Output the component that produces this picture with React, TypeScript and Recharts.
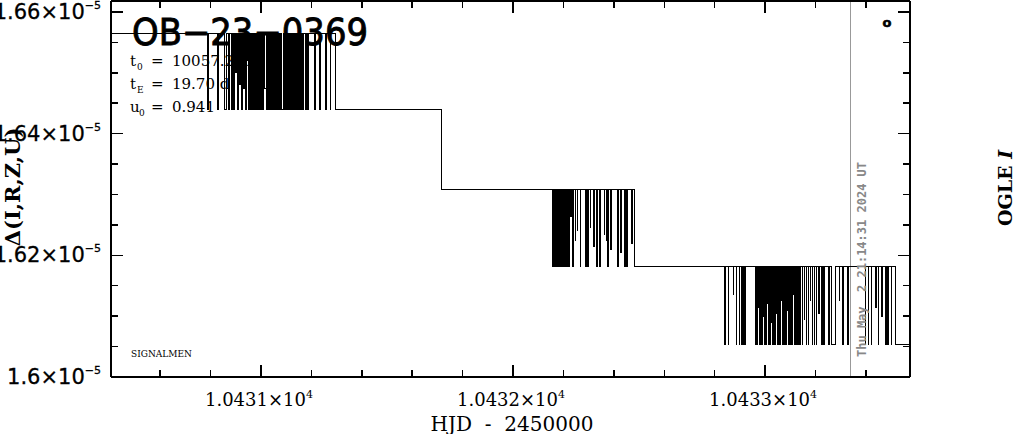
import React from 'react';
import { LineChart, Line, XAxis, YAxis, ReferenceLine } from 'recharts';

// levels of the step signal, in units of 1e-5
const A = 1.6565;
const B = 1.6439;
const C = 1.6309;
const D = 1.6181;
const E = 1.6053;

const xMajor = [10431, 10432, 10433];
const xMinor = [10430.6, 10430.8, 10431.2, 10431.4, 10431.6, 10431.8, 10432.2, 10432.4, 10432.6, 10432.8, 10433.2, 10433.4];
const yMajor = [1.6, 1.62, 1.64, 1.66];
const yMinor = [1.605, 1.61, 1.615, 1.625, 1.63, 1.635, 1.645, 1.65, 1.655];

const markerHjd = 10433.34;

const lead: [number, number][] = [[10430.4, A]];

const burst1: [number, number][] = [
  [10430.786, B], [10430.790, A], [10430.829, B], [10430.832, A], [10430.857, B], [10430.864, A],
  [10430.871, B], [10430.874, A], [10430.882, B], [10430.886, A], [10430.891, B], [10430.895, A],
  [10430.899, 1.650], [10430.902, A], [10430.906, B], [10430.910, A], [10430.915, 1.648], [10430.918, A],
  [10430.922, B], [10430.926, A], [10430.930, 1.6475], [10430.933, A], [10430.937, B], [10430.941, A],
  [10430.945, 1.652], [10430.948, A], [10430.951, B], [10430.955, A], [10430.958, B], [10430.961, A],
  [10430.963, 1.6495], [10430.966, A], [10430.968, B], [10430.971, A], [10430.973, B], [10430.976, A],
  [10430.978, B], [10430.981, A], [10430.983, 1.6505], [10430.986, A], [10430.988, B], [10430.991, A],
  [10430.993, B], [10430.996, A], [10430.998, B], [10431.001, A], [10431.003, B], [10431.006, A],
  [10431.008, B], [10431.011, A], [10431.013, 1.6475], [10431.020, A], [10431.022, B], [10431.025, A],
  [10431.027, B], [10431.030, A], [10431.032, B], [10431.035, A], [10431.037, B], [10431.039, A],
  [10431.041, B], [10431.044, A], [10431.046, B], [10431.049, A], [10431.051, B], [10431.053, A],
  [10431.058, B], [10431.061, A], [10431.063, B], [10431.066, A], [10431.068, B], [10431.070, A],
  [10431.073, B], [10431.075, A], [10431.078, B], [10431.080, A], [10431.083, B], [10431.089, A],
  [10431.091, B], [10431.094, A], [10431.096, B], [10431.099, A], [10431.101, B], [10431.104, A],
  [10431.106, B], [10431.109, A], [10431.111, B], [10431.114, A], [10431.116, B], [10431.119, A],
  [10431.121, B], [10431.124, A], [10431.126, B], [10431.129, A], [10431.131, B], [10431.134, A],
  [10431.137, B], [10431.140, A], [10431.143, B], [10431.146, A], [10431.149, B], [10431.152, A],
  [10431.155, B], [10431.160, A], [10431.164, B], [10431.170, A], [10431.175, B], [10431.179, A],
  [10431.186, B], [10431.190, A], [10431.213, B], [10431.216, A], [10431.233, B], [10431.236, A],
  [10431.256, B], [10431.259, A], [10431.274, B], [10431.277, A], [10431.294, B],
];

const drop: [number, number][] = [[10431.718, C]];

const burst2: [number, number][] = [
  [10432.155, D], [10432.158, C], [10432.160, D], [10432.163, C], [10432.167, D], [10432.169, C],
  [10432.171, D], [10432.173, C], [10432.175, D], [10432.177, C], [10432.179, D], [10432.181, C],
  [10432.183, D], [10432.185, C], [10432.187, D], [10432.189, C], [10432.191, D], [10432.193, C],
  [10432.195, D], [10432.197, C], [10432.199, D], [10432.201, C], [10432.203, D], [10432.205, C],
  [10432.207, D], [10432.209, C], [10432.211, D], [10432.213, C], [10432.215, D], [10432.217, C],
  [10432.219, D], [10432.221, C], [10432.223, D], [10432.225, C], [10432.228, 1.6263], [10432.231, C],
  [10432.236, D], [10432.239, C], [10432.246, 1.6225], [10432.249, C], [10432.254, 1.624], [10432.256, C],
  [10432.266, D], [10432.269, C], [10432.286, D], [10432.288, C], [10432.291, D], [10432.294, C],
  [10432.298, D], [10432.300, C], [10432.306, 1.6245], [10432.309, C], [10432.320, 1.6215], [10432.322, C],
  [10432.331, D], [10432.334, C], [10432.345, D], [10432.348, C], [10432.361, 1.6235], [10432.364, C],
  [10432.370, 1.6225], [10432.373, C], [10432.376, D], [10432.379, C], [10432.387, 1.621], [10432.390, C],
  [10432.416, D], [10432.418, C], [10432.428, 1.6205], [10432.431, C], [10432.444, D], [10432.447, C],
  [10432.452, D], [10432.455, C], [10432.470, 1.622], [10432.473, C], [10432.480, D],
];

const burst3: [number, number][] = [
  [10432.841, E], [10432.844, D], [10432.853, E], [10432.856, D], [10432.873, 1.6135], [10432.876, D],
  [10432.885, E], [10432.888, D], [10432.897, E], [10432.899, D], [10432.907, E], [10432.910, D],
  [10432.914, E], [10432.916, D], [10432.918, E], [10432.921, D], [10432.964, E], [10432.966, D],
  [10432.968, E], [10432.970, D], [10432.972, 1.6115], [10432.974, D], [10432.976, E], [10432.978, D],
  [10432.980, E], [10432.982, D], [10432.984, E], [10432.986, D], [10432.988, E], [10432.990, D],
  [10432.992, 1.610], [10432.994, D], [10432.996, E], [10432.998, D], [10433.000, E], [10433.002, D],
  [10433.004, E], [10433.006, D], [10433.008, 1.612], [10433.010, D], [10433.012, E], [10433.014, D],
  [10433.016, E], [10433.018, D], [10433.020, E], [10433.022, D], [10433.024, 1.609], [10433.026, D],
  [10433.028, E], [10433.030, D], [10433.032, E], [10433.034, D], [10433.036, E], [10433.038, D],
  [10433.040, E], [10433.042, D], [10433.044, 1.6105], [10433.046, D], [10433.048, E], [10433.050, D],
  [10433.052, E], [10433.054, D], [10433.056, E], [10433.058, D], [10433.060, E], [10433.062, D],
  [10433.064, 1.6125], [10433.066, D], [10433.068, E], [10433.070, D], [10433.072, E], [10433.074, D],
  [10433.076, E], [10433.078, D], [10433.080, E], [10433.082, D], [10433.084, E], [10433.086, D],
  [10433.088, 1.611], [10433.090, D], [10433.092, E], [10433.094, D], [10433.096, E], [10433.098, D],
  [10433.100, E], [10433.102, D], [10433.104, E], [10433.106, D], [10433.108, E], [10433.110, D],
  [10433.112, 1.6135], [10433.114, D], [10433.116, E], [10433.118, D], [10433.120, E], [10433.122, D],
  [10433.124, E], [10433.126, D], [10433.128, E], [10433.130, D], [10433.132, E], [10433.134, D],
  [10433.136, E], [10433.139, D], [10433.147, E], [10433.150, D], [10433.155, 1.6095], [10433.158, D],
  [10433.163, E], [10433.166, D], [10433.171, E], [10433.174, D], [10433.179, 1.6125], [10433.182, D],
  [10433.187, E], [10433.190, D], [10433.195, E], [10433.198, D], [10433.203, E], [10433.206, D],
  [10433.213, 1.6105], [10433.216, D], [10433.223, E], [10433.226, D], [10433.232, E], [10433.236, D],
  [10433.250, E], [10433.254, D], [10433.262, E], [10433.281, D], [10433.294, 1.6125], [10433.297, D],
  [10433.306, E], [10433.310, D], [10433.326, E], [10433.330, D], [10433.397, E], [10433.400, D],
  [10433.409, E], [10433.412, D], [10433.421, E], [10433.424, D], [10433.439, 1.6115], [10433.441, D],
  [10433.449, E], [10433.452, D], [10433.461, 1.610], [10433.464, D], [10433.477, E], [10433.479, D],
  [10433.481, E], [10433.484, D], [10433.487, E], [10433.489, D], [10433.500, E], [10433.503, D],
  [10433.516, E],
];

const tail: [number, number][] = [[10433.58, E]];

const data = [...lead, ...burst1, ...drop, ...burst2, ...burst3, ...tail].map(([t, v]) => ({ t, v }));

const xTicks = [...xMajor, ...xMinor].sort((a, b) => a - b);
const yTicks = [...yMajor, ...yMinor].sort((a, b) => a - b);

const serif = '"DejaVu Serif", serif';
const sans = '"DejaVu Sans", sans-serif';

const BottomTick = (props: any) => {
  const { x, y, payload } = props;
  const major = xMajor.includes(payload.value);
  return (
    <g>
      <line x1={x} x2={x} y1={y} y2={y - (major ? 12 : 7)} stroke="#000" strokeWidth={1.5} />
      {major && (
        <text x={x - 2} y={y + 29} textAnchor="middle" fontFamily={serif} fontSize={18} fill="#000">
          {(payload.value / 1e4).toFixed(4) + '×10'}
          <tspan fontSize={11} dy={-8}>4</tspan>
        </text>
      )}
    </g>
  );
};

const TopTick = (props: any) => {
  const { x, y, payload } = props;
  const major = xMajor.includes(payload.value);
  return <line x1={x} x2={x} y1={y} y2={y + (major ? 12 : 7)} stroke="#000" strokeWidth={1.5} />;
};

const LeftTick = (props: any) => {
  const { x, y, payload } = props;
  const major = yMajor.includes(payload.value);
  return (
    <g>
      <line x1={x} x2={x + (major ? 12 : 7)} y1={y} y2={y} stroke="#000" strokeWidth={1.5} />
      {major && (
        <text x={x - 10} y={y + 7} textAnchor="end" fontFamily={sans} fontSize={21} fill="#000" stroke="#000" strokeWidth={0.3}>
          {String(payload.value) + '×10'}
          <tspan fontSize={11} dy={-10}>−5</tspan>
        </text>
      )}
    </g>
  );
};

const RightTick = (props: any) => {
  const { x, y, payload } = props;
  const major = yMajor.includes(payload.value);
  return <line x1={x} x2={x - (major ? 12 : 7)} y1={y} y2={y} stroke="#000" strokeWidth={1.5} />;
};

export default function App() {
  return (
    <div style={{ position: 'absolute', left: 0, top: 0, width: 1014, height: 434, background: '#fff', shapeRendering: 'crispEdges' }}>
      <LineChart width={1014} height={434} data={data} margin={{ top: 0, right: 0, bottom: 0, left: 0 }}>
        <XAxis
          xAxisId="b"
          dataKey="t"
          type="number"
          domain={[10430.405, 10433.575]}
          allowDataOverflow
          ticks={xTicks}
          interval={0}
          tickSize={0}
          tickMargin={0}
          tickLine={false}
          height={57}
          axisLine={{ stroke: '#000', strokeWidth: 2 }}
          tick={<BottomTick />}
        />
        <XAxis
          xAxisId="top"
          orientation="top"
          dataKey="t"
          type="number"
          domain={[10430.405, 10433.575]}
          allowDataOverflow
          ticks={xTicks}
          interval={0}
          tickSize={0}
          tickMargin={0}
          tickLine={false}
          height={1}
          axisLine={{ stroke: '#000', strokeWidth: 2 }}
          tick={<TopTick />}
        />
        <YAxis
          yAxisId="l"
          type="number"
          domain={[1.6, 1.6618]}
          allowDataOverflow
          ticks={yTicks}
          interval={0}
          tickSize={0}
          tickMargin={0}
          tickLine={false}
          width={111}
          axisLine={{ stroke: '#000', strokeWidth: 2 }}
          tick={<LeftTick />}
        />
        <YAxis
          yAxisId="r"
          orientation="right"
          type="number"
          domain={[1.6, 1.6618]}
          allowDataOverflow
          ticks={yTicks}
          interval={0}
          tickSize={0}
          tickMargin={0}
          tickLine={false}
          width={104}
          axisLine={{ stroke: '#000', strokeWidth: 2 }}
          tick={<RightTick />}
        />
        <ReferenceLine xAxisId="b" yAxisId="l" x={markerHjd} stroke="#999" strokeWidth={1} />
        <Line
          xAxisId="b"
          yAxisId="l"
          type="stepAfter"
          dataKey="v"
          stroke="#000"
          strokeWidth={1}
          dot={false}
          isAnimationActive={false}
        />
      </LineChart>
      <svg width={1014} height={434} style={{ position: 'absolute', left: 0, top: 0, pointerEvents: 'none' }}>
        <text x={132} y={45} fontFamily={sans} fontSize={37} textLength={236} lengthAdjust="spacingAndGlyphs" fill="#000" stroke="#000" strokeWidth={0.9}>
          OB−23−0369
        </text>
        <g fontFamily={serif} fontSize={15} fill="#000">
          <text x={130} y={66}>t</text>
          <text x={137} y={70} fontSize={9}>0</text>
          <text x={151} y={66}>=</text>
          <text x={172} y={66}>10057.2500</text>
          <text x={130} y={89}>t</text>
          <text x={137} y={93} fontSize={9}>E</text>
          <text x={151} y={89}>=</text>
          <text x={172} y={89}>19.70 d</text>
          <text x={130} y={112}>u</text>
          <text x={139} y={116} fontSize={9}>0</text>
          <text x={151} y={112}>=</text>
          <text x={172} y={112}>0.941</text>
        </g>
        <text x={131} y={357} fontFamily={serif} fontSize={9} fill="#000">SIGNALMEN</text>
        <text x={887} y={27} fontFamily={sans} fontSize={13} fontWeight="bold" textAnchor="middle" fill="#000" stroke="#000" strokeWidth={0.6}>o</text>
        <text
          transform="translate(866,357) rotate(-90)"
          fontFamily='"DejaVu Sans Mono", monospace'
          fontSize={12}
          fontWeight="bold"
          fill="#888"
          xmlSpace="preserve"
          style={{ whiteSpace: 'pre' }}
        >
          Thu May  2 21:14:31 2024 UT
        </text>
        <text transform="translate(1012,188) rotate(-90)" textAnchor="middle" fontFamily={serif} fontSize={19} fontWeight="bold" fill="#000">
          OGLE <tspan fontStyle="italic">I</tspan>
        </text>
        <text transform="translate(20,187) rotate(-90)" textAnchor="middle" fontFamily={serif} fontSize={21} fontWeight="bold" fill="#000">
          Δ(I,R,Z,U)
        </text>
        <text x={512} y={431} textAnchor="middle" fontFamily={serif} fontSize={20} fill="#000" xmlSpace="preserve" style={{ whiteSpace: 'pre' }}>
          HJD  -  2450000
        </text>
      </svg>
    </div>
  );
}
